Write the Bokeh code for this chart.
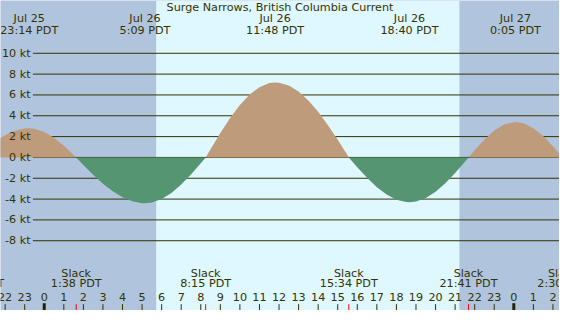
import numpy as np
from bokeh.plotting import figure
from bokeh.models import Range1d
from bokeh.embed import file_html
from bokeh.resources import INLINE
from bokeh.core.properties import value

# ---------------- data (hours relative to Jul 26 00:00 PDT) ----------------
title = "Surge Narrows, British Columbia Current"

curve_hours = [-2.5, -2.0, -1.5, -1.0, -0.767, -0.5, 0.0, 0.5, 1.0, 1.5, 1.633,
               2.0, 2.5, 3.0, 3.5, 4.0, 4.5, 5.0, 5.15, 5.5, 6.0, 6.5, 7.0, 7.5,
               8.0, 8.25, 8.5, 9.0, 9.5, 10.0, 10.5, 11.0, 11.5, 11.8, 12.0, 12.5,
               13.0, 13.5, 14.0, 14.5, 15.0, 15.5, 15.567, 16.0, 16.5, 17.0, 17.5,
               18.0, 18.5, 18.667, 19.0, 19.5, 20.0, 20.5, 21.0, 21.5, 21.683,
               22.0, 22.5, 23.0, 23.5, 24.0, 24.083, 24.5, 25.0, 25.5, 26.0, 26.5]
curve_kt = [1.55, 2.14, 2.56, 2.78, 2.80, 2.76, 2.45, 1.89, 1.13, 0.24, 0.0,
            -0.72, -1.66, -2.52, -3.26, -3.83, -4.22, -4.39, -4.40, -4.33, -4.00,
            -3.41, -2.60, -1.63, -0.56, 0.0, 0.79, 2.35, 3.78, 5.03, 6.04, 6.75,
            7.14, 7.20, 7.17, 6.90, 6.32, 5.47, 4.38, 3.10, 1.69, 0.20, 0.0,
            -0.94, -1.96, -2.86, -3.57, -4.06, -4.28, -4.30, -4.24, -3.90, -3.30,
            -2.48, -1.50, -0.41, 0.0, 0.70, 1.73, 2.58, 3.16, 3.39, 3.40, 3.28,
            2.81, 2.06, 1.08, 0.0]

max_hours = [-0.767, 5.15, 11.8, 18.667, 24.083]
max_dates = ["Jul 25", "Jul 26", "Jul 26", "Jul 26", "Jul 27"]
max_clock = ["23:14 PDT", "5:09 PDT", "11:48 PDT", "18:40 PDT", "0:05 PDT"]

slack_hours = [-3.533, 1.633, 8.25, 15.567, 21.683, 26.5]
slack_clock = ["20:28 PDT", "1:38 PDT", "8:15 PDT", "15:34 PDT", "21:41 PDT", "2:30 PDT"]

day_start = [5.72]
day_end = [21.22]

kt_levels = [10, 8, 6, 4, 2, 0, -2, -4, -6, -8]
kt_labels = ["10 kt", "8 kt", "6 kt", "4 kt", "2 kt", "0 kt", "-2 kt", "-4 kt", "-6 kt", "-8 kt"]

hour_ticks = list(range(-2, 27))
hour_labels = ["22", "23", "0", "1", "2", "3", "4", "5", "6", "7", "8", "9", "10",
               "11", "12", "13", "14", "15", "16", "17", "18", "19", "20", "21",
               "22", "23", "0", "1", "2"]
midnight_ticks = [0, 24]

# ---------------- styles ----------------
NIGHT = "#b0c4de"
DAY = "#dff7ff"
FLOOD = "#bd9b7b"
EBB = "#559572"
FG = "#333300"
FONT = value("DejaVu Sans")
FS = "11.2px"

X0, X1 = -2.236, 26.335
Y0, Y1 = -14.70, 15.07

p = figure(width=559, height=310, output_backend="svg", toolbar_location=None,
           x_range=Range1d(X0, X1), y_range=Range1d(Y0, Y1),
           x_axis_location=None, y_axis_location=None, min_border=0,
           outline_line_color=None, background_fill_color=NIGHT,
           border_fill_color=NIGHT)
p.xgrid.visible = False
p.ygrid.visible = False

# day shading
p.quad(left=day_start, right=day_end, bottom=[Y0], top=[Y1],
       fill_color=DAY, line_color=None)

# grid lines
n = len(kt_levels)
p.segment(x0=[-0.58] * n, x1=[X1 + 1] * n, y0=kt_levels, y1=kt_levels,
          line_color=FG, line_width=1)

# current curve
h = np.array(curve_hours)
v = np.array(curve_kt)
p.varea(x=h, y1=np.zeros_like(v), y2=np.maximum(v, 0), fill_color=FLOOD)
p.varea(x=h, y1=np.zeros_like(v), y2=np.minimum(v, 0), fill_color=EBB)

# y labels
p.text(x=[-0.696] * n, y=kt_levels, text=kt_labels, text_align="right",
       text_baseline="middle", text_font=FONT, text_font_size=FS, text_color=FG)

# title
p.text(x=[(X0 + X1) / 2], y=[14.43], text=[title], text_align="center",
       text_baseline="middle", text_font=FONT, text_font_size=FS, text_color=FG)

# max labels
p.text(x=max_hours, y=[13.31] * len(max_hours), text=max_dates, text_align="center",
       text_baseline="middle", text_font=FONT, text_font_size=FS, text_color=FG)
p.text(x=max_hours, y=[12.17] * len(max_hours), text=max_clock, text_align="center",
       text_baseline="middle", text_font=FONT, text_font_size=FS, text_color=FG)

# slack labels
ns = len(slack_hours)
p.text(x=slack_hours, y=[-11.17] * ns, text=["Slack"] * ns, text_align="center",
       text_baseline="middle", text_font=FONT, text_font_size=FS, text_color=FG)
p.text(x=slack_hours, y=[-12.15] * ns, text=slack_clock, text_align="center",
       text_baseline="middle", text_font=FONT, text_font_size=FS, text_color=FG)

# hour labels
p.text(x=hour_ticks, y=[-13.40] * len(hour_ticks), text=hour_labels, text_align="center",
       text_baseline="middle", text_font=FONT, text_font_size=FS, text_color=FG)

# hour ticks
nt = len(hour_ticks)
p.segment(x0=hour_ticks, x1=hour_ticks, y0=[-14.09] * nt, y1=[Y0] * nt,
          line_color=FG, line_width=1)
p.segment(x0=midnight_ticks, x1=midnight_ticks, y0=[-14.0] * 2, y1=[Y0] * 2,
          line_color="#222200", line_width=3)
p.segment(x0=slack_hours, x1=slack_hours, y0=[-14.09] * ns, y1=[Y0] * ns,
          line_color="#ff0000", line_width=1)

open("out.html", "w").write(file_html(p, INLINE))
